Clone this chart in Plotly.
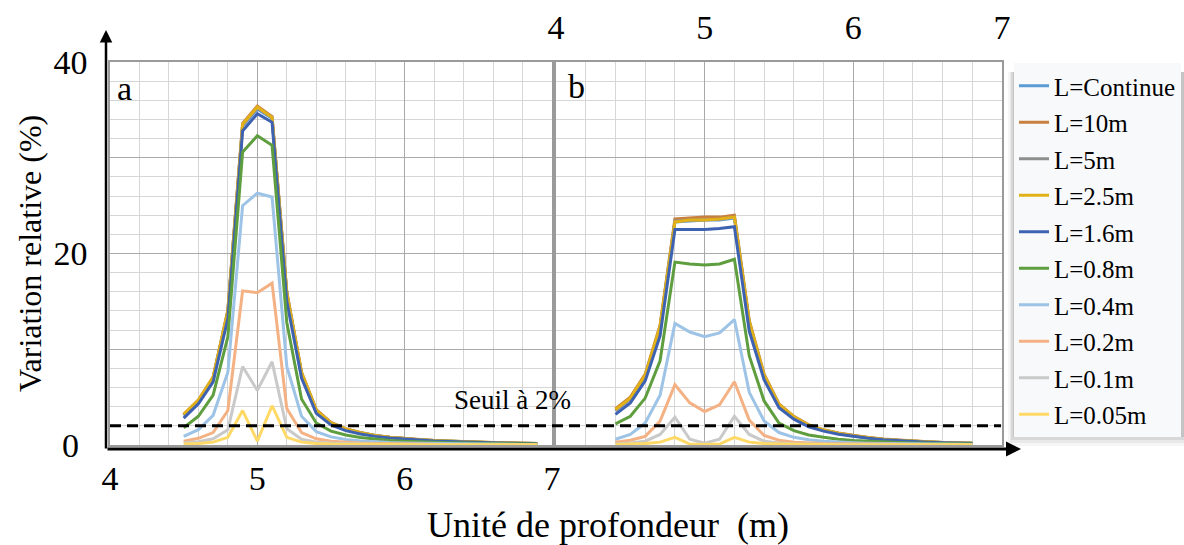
import plotly.graph_objects as go

# ---------------- data ----------------
depth_a = [4.5, 4.6, 4.7, 4.8, 4.9, 5.0, 5.1, 5.2, 5.3, 5.4, 5.5, 5.6, 5.7, 5.8, 5.9,
           6.0, 6.1, 6.2, 6.3, 6.4, 6.5, 6.6, 6.7, 6.8, 6.9]
depth_b = [4.4, 4.5, 4.6, 4.7, 4.8, 4.9, 5.0, 5.1, 5.2, 5.3, 5.4, 5.5, 5.6, 5.7, 5.8,
           5.9, 6.0, 6.1, 6.2, 6.3, 6.4, 6.5, 6.6, 6.7, 6.8]

series_names = ["L=Continue", "L=10m", "L=5m", "L=2.5m", "L=1.6m",
                "L=0.8m", "L=0.4m", "L=0.2m", "L=0.1m", "L=0.05m"]

a_continue = [3.1, 4.6, 7.0, 13.9, 33.3, 35.1, 34.1, 15.8, 7.5, 3.6, 2.3, 1.65, 1.25, 0.98, 0.8, 0.66, 0.55, 0.46, 0.39, 0.33, 0.28, 0.24, 0.2, 0.17, 0.15]
a_10m = [3.2, 4.7, 7.1, 14.1, 33.6, 35.4, 34.3, 16.0, 7.6, 3.7, 2.35, 1.7, 1.3, 1.0, 0.82, 0.68, 0.56, 0.47, 0.4, 0.34, 0.29, 0.25, 0.21, 0.18, 0.15]
a_5m = [3.1, 4.6, 7.0, 14.0, 33.4, 35.2, 34.2, 15.9, 7.5, 3.6, 2.3, 1.65, 1.27, 0.99, 0.8, 0.66, 0.55, 0.46, 0.39, 0.33, 0.28, 0.24, 0.2, 0.17, 0.15]
a_2p5m = [3.2, 4.7, 7.1, 14.0, 33.5, 35.3, 34.2, 15.9, 7.6, 3.65, 2.3, 1.68, 1.28, 1.0, 0.81, 0.67, 0.56, 0.47, 0.4, 0.34, 0.29, 0.25, 0.21, 0.18, 0.15]
a_1p6m = [2.8, 4.3, 6.6, 13.2, 32.8, 34.6, 33.7, 15.0, 7.0, 3.3, 2.1, 1.5, 1.15, 0.9, 0.74, 0.61, 0.5, 0.42, 0.36, 0.3, 0.26, 0.22, 0.19, 0.16, 0.14]
a_0p8m = [1.8, 3.0, 5.2, 11.3, 30.6, 32.3, 31.3, 12.8, 4.8, 2.3, 1.45, 1.05, 0.78, 0.6, 0.48, 0.39, 0.32, 0.27, 0.23, 0.2, 0.17, 0.15, 0.13, 0.11, 0.1]
a_0p4m = [0.9, 1.6, 3.1, 7.6, 25.0, 26.3, 25.9, 8.2, 3.0, 1.4, 0.85, 0.58, 0.42, 0.32, 0.25, 0.2, 0.17, 0.14, 0.12, 0.1, 0.09, 0.08, 0.07, 0.06, 0.05]
a_0p2m = [0.4, 0.7, 1.3, 3.6, 16.1, 15.9, 16.9, 3.8, 1.3, 0.65, 0.4, 0.28, 0.2, 0.15, 0.12, 0.1, 0.08, 0.07, 0.06, 0.05, 0.05, 0.04, 0.04, 0.03, 0.03]
a_0p1m = [0.2, 0.35, 0.65, 1.6, 8.2, 5.7, 8.7, 1.7, 0.6, 0.3, 0.2, 0.14, 0.1, 0.08, 0.06, 0.05, 0.04, 0.04, 0.03, 0.03, 0.03, 0.02, 0.02, 0.02, 0.02]
a_0p05m = [0.1, 0.15, 0.3, 0.8, 3.6, 0.4, 4.1, 0.8, 0.3, 0.15, 0.1, 0.08, 0.06, 0.05, 0.04, 0.04, 0.03, 0.03, 0.03, 0.02, 0.02, 0.02, 0.02, 0.02, 0.02]

b_continue = [3.6, 4.8, 7.2, 12.2, 23.3, 23.4, 23.5, 23.5, 23.7, 12.7, 7.2, 4.2, 2.9, 2.05, 1.55, 1.2, 0.95, 0.75, 0.6, 0.48, 0.39, 0.32, 0.26, 0.21, 0.17]
b_10m = [3.8, 5.0, 7.4, 12.5, 23.6, 23.7, 23.8, 23.8, 24.0, 13.0, 7.4, 4.3, 3.0, 2.1, 1.6, 1.25, 0.98, 0.78, 0.62, 0.5, 0.4, 0.33, 0.27, 0.22, 0.18]
b_5m = [3.6, 4.8, 7.2, 12.3, 23.4, 23.5, 23.5, 23.6, 23.8, 12.8, 7.2, 4.2, 2.9, 2.05, 1.55, 1.2, 0.95, 0.75, 0.6, 0.48, 0.39, 0.32, 0.26, 0.21, 0.17]
b_2p5m = [3.7, 4.9, 7.3, 12.4, 23.3, 23.5, 23.5, 23.6, 23.8, 12.9, 7.3, 4.25, 2.95, 2.07, 1.57, 1.22, 0.96, 0.76, 0.61, 0.49, 0.39, 0.32, 0.26, 0.21, 0.17]
b_1p6m = [3.2, 4.4, 6.7, 11.4, 22.5, 22.5, 22.5, 22.6, 22.8, 11.9, 6.8, 3.9, 2.7, 1.9, 1.45, 1.12, 0.88, 0.7, 0.56, 0.45, 0.36, 0.3, 0.24, 0.2, 0.16]
b_0p8m = [2.2, 3.0, 4.9, 8.8, 19.1, 18.9, 18.8, 18.9, 19.4, 9.3, 4.6, 2.3, 1.5, 1.05, 0.8, 0.6, 0.48, 0.38, 0.3, 0.25, 0.2, 0.17, 0.14, 0.12, 0.1]
b_0p4m = [0.6, 1.1, 2.3, 5.2, 12.7, 11.8, 11.3, 11.7, 13.1, 5.5, 2.5, 1.3, 0.8, 0.55, 0.4, 0.3, 0.24, 0.19, 0.16, 0.13, 0.11, 0.09, 0.08, 0.07, 0.06]
b_0p2m = [0.3, 0.5, 0.9, 2.5, 6.3, 4.4, 3.5, 4.2, 6.6, 2.6, 1.0, 0.5, 0.3, 0.2, 0.15, 0.12, 0.1, 0.08, 0.07, 0.06, 0.05, 0.04, 0.04, 0.03, 0.03]
b_0p1m = [0.1, 0.2, 0.4, 1.1, 2.9, 0.6, 0.2, 0.6, 3.0, 1.1, 0.4, 0.2, 0.12, 0.08, 0.06, 0.05, 0.04, 0.03, 0.03, 0.02, 0.02, 0.02, 0.02, 0.02, 0.02]
b_0p05m = [0.05, 0.1, 0.15, 0.3, 0.8, 0.1, 0.05, 0.1, 0.8, 0.3, 0.15, 0.1, 0.06, 0.05, 0.04, 0.03, 0.03, 0.02, 0.02, 0.02, 0.02, 0.02, 0.02, 0.02, 0.02]

panel_a = [a_continue, a_10m, a_5m, a_2p5m, a_1p6m, a_0p8m, a_0p4m, a_0p2m, a_0p1m, a_0p05m]
panel_b = [b_continue, b_10m, b_5m, b_2p5m, b_1p6m, b_0p8m, b_0p4m, b_0p2m, b_0p1m, b_0p05m]

x_tick_vals = [4, 5, 6, 7]
x_tick_text = ["4", "5", "6", "7"]
y_tick_vals = [0, 10, 20, 30, 40]
y_tick_text = ["0\u2005", "", "20", "", "40"]
threshold = 2

# ---------------- style ----------------
colors = ["#5B9BD5", "#C9803E", "#8E8E8E", "#E2B118", "#3D62B2",
          "#5E9E3E", "#9DC3E6", "#F4B183", "#C9C9C9", "#FFD966"]
FONT = "Liberation Serif"
W, H = 1184, 545


def px_x(p):
    return p / W


def px_y(p):
    return 1 - p / H


fig = go.Figure()
for i, name in enumerate(series_names):
    fig.add_trace(go.Scatter(x=depth_a, y=panel_a[i], mode="lines", name=name,
                             legendgroup=name, showlegend=True,
                             line=dict(color=colors[i], width=3),
                             xaxis="x", yaxis="y"))
    fig.add_trace(go.Scatter(x=depth_b, y=panel_b[i], mode="lines", name=name,
                             legendgroup=name, showlegend=False,
                             line=dict(color=colors[i], width=3),
                             xaxis="x2", yaxis="y2"))

grid_major = "#a9a9a9"
grid_minor = "#d6d6d6"
box = "#9a9a9a"

common_x = dict(range=[4, 7], tickmode="array", tickvals=x_tick_vals, ticktext=x_tick_text,
                showgrid=True, gridcolor=grid_major, gridwidth=1,
                minor=dict(dtick=0.2, tick0=4, showgrid=True, gridcolor=grid_minor, gridwidth=1),
                zeroline=False, showline=True, mirror=True, linecolor=box, linewidth=1.5,
                ticks="", tickfont=dict(family=FONT, size=34, color="black"),
                automargin=False, fixedrange=True)
common_y = dict(range=[0, 40], tickmode="array", tickvals=y_tick_vals, ticktext=y_tick_text,
                showgrid=True, gridcolor=grid_major, gridwidth=1,
                minor=dict(dtick=2, tick0=0, showgrid=True, gridcolor=grid_minor, gridwidth=1),
                zeroline=False, showline=True, mirror=True, linecolor=box, linewidth=1.5,
                ticks="", tickfont=dict(family=FONT, size=34, color="black"),
                domain=[px_y(445), px_y(62)], automargin=False, fixedrange=True)

fig.update_layout(
    width=W, height=H,
    margin=dict(l=0, r=0, t=0, b=0, autoexpand=False),
    paper_bgcolor="white", plot_bgcolor="white",
    font=dict(family=FONT, color="black"),
    xaxis=dict(common_x, domain=[px_x(110), px_x(552)], anchor="y", side="bottom",
               ticklabelstandoff=2),
    yaxis=dict(common_y, anchor="x", ticklabelstandoff=14),
    xaxis2=dict(common_x, domain=[px_x(556), px_x(1002)], anchor="y2", side="top",
                ticklabelstandoff=8),
    yaxis2=dict(common_y, anchor="x2", matches="y", showticklabels=False),
    legend=dict(x=px_x(1014), y=px_y(63), xanchor="left", yanchor="top",
                bgcolor="#f8f9fb", borderwidth=0,
                font=dict(family=FONT, size=25, color="black"),
                tracegroupgap=1, itemwidth=30),
    showlegend=True,
)

# legend shadow (soft, mostly below)
for k, a in enumerate([0.035, 0.05, 0.07, 0.09]):
    d = 12 - 3 * k
    fig.add_shape(type="rect", xref="paper", yref="paper",
                  x0=px_x(1014 - d // 2), x1=1.0, y0=px_y(430 + d + 4), y1=px_y(72),
                  line=dict(width=0), fillcolor=f"rgba(0,0,0,{a})", layer="above")

# threshold line (2 %) across both panels
fig.add_shape(type="line", xref="paper", yref="y", x0=px_x(110), x1=px_x(1001),
              y0=threshold, y1=threshold,
              line=dict(color="black", width=3, dash="11px,6px"), layer="above")

C = dict(xanchor="center", yanchor="middle", xref="paper", yref="paper")
annotations = [
    # axis arrows
    dict(x=px_x(1021), y=px_y(449), xref="paper", yref="paper", text="", showarrow=True,
         ax=-915, ay=0, arrowhead=2, arrowsize=1, arrowwidth=3, arrowcolor="black"),
    dict(x=px_x(106), y=px_y(30), xref="paper", yref="paper", text="", showarrow=True,
         ax=0, ay=420, arrowhead=2, arrowsize=1, arrowwidth=2.5, arrowcolor="black"),
    # panel letters
    dict(C, x=px_x(124), y=px_y(88), text="a", showarrow=False,
         font=dict(family=FONT, size=34, color="black")),
    dict(C, x=px_x(576), y=px_y(86), text="b", showarrow=False,
         font=dict(family=FONT, size=34, color="black")),
    # threshold label
    dict(C, x=px_x(512), y=px_y(400), text="Seuil à 2%",
         showarrow=False, font=dict(family=FONT, size=27, color="black")),
    # axis titles
    dict(C, x=px_x(608), y=px_y(525), text="Unité de profondeur\u00a0 (m)", showarrow=False,
         font=dict(family=FONT, size=36, color="black")),
    dict(C, x=px_x(30), y=px_y(254), text="Variation relative (%)", textangle=-90,
         showarrow=False, font=dict(family=FONT, size=32, color="black")),
]
fig.update_layout(annotations=annotations)

fig.write_html("out.html", config={"displayModeBar": False},
               post_script="document.body.style.margin='0px';document.body.style.overflow='hidden';")
